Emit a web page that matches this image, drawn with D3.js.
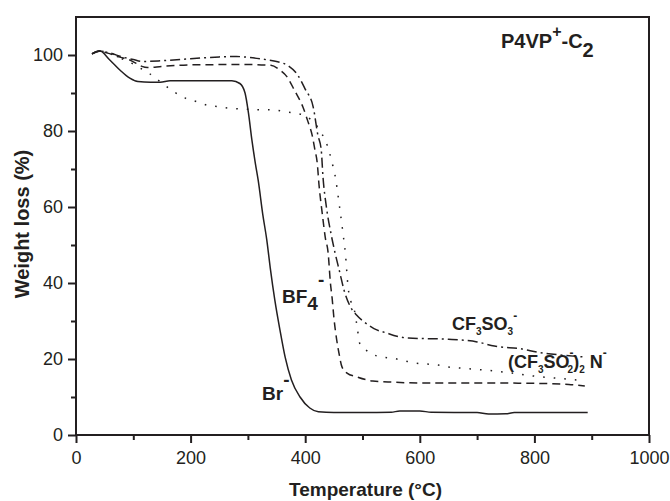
<!DOCTYPE html>
<html>
<head>
<meta charset="utf-8">
<script src="https://cdn.jsdelivr.net/npm/d3@7"></script>
<style>
  html, body { margin: 0; padding: 0; background: #fff; }
  svg text { font-family: "Liberation Sans", Arial, sans-serif; fill: #231f20; }
</style>
</head>
<body>
<svg id="chart" width="670" height="501"></svg>
<script>
/* TGA of P4VP+-C2 with four counter-anions: temperature (°C) vs weight (%) */
const brCurve = [[28,100.3],[41,101.1],[59,98.7],[77,96],[94,93.9],[108,93],[130,92.8],[147,92.8],[164,93.2],[204,93.2],[272,93.2],[286,92.5],[295,90],[301,84.7],[307,77.6],[313,71.5],[318,67],[326,58],[333,51.3],[339,44],[347,35.5],[356,27.6],[365,20.5],[376,14.5],[391,10],[408,7.1],[423,6.1],[450,5.9],[500,5.9],[550,6],[565,6.3],[600,6.3],[620,6],[700,5.9],[720,5.5],[750,5.6],[765,5.9],[893,5.9]];
const bf4Curve = [[28,100.3],[40,101],[55,100.5],[75,99.5],[95,98.6],[105,97.8],[115,97],[125,96.7],[150,97],[200,97.4],[300,97.5],[340,97.3],[356,96],[368,94.3],[382,90.5],[396,86.3],[405,82.4],[412,79],[417,75],[421,71.6],[424,66],[430,58],[435,52],[440,48],[444,40],[447,36],[450,31],[455,25],[459,21.5],[464,18],[473,16.3],[490,15.3],[518,14.2],[553,13.9],[600,13.7],[700,13.7],[800,13.6],[860,13.3],[888,12.9]];
const otfCurve = [[28,100.3],[40,101],[60,100.5],[80,99.5],[100,98.8],[115,98.3],[150,98.5],[200,99],[250,99.5],[280,99.6],[300,99.4],[326,98.9],[352,98.2],[370,97.2],[387,94.7],[400,91],[414,86.3],[422,79],[428,75],[431,68],[437,60],[445,53],[452,48],[460,43],[468,38],[478,34],[490,31.5],[505,29.5],[520,28],[543,26.8],[560,26],[580,25.5],[650,25.2],[700,24.5],[730,23.4],[780,22.6],[805,21.8],[850,21],[890,20.5]];
const tfsiCurve = [[28,100.3],[40,101],[60,100.5],[80,99],[100,97.6],[115,96.3],[129,95],[150,92.6],[170,90.4],[190,88.7],[211,87.7],[229,86.8],[248,86.4],[269,86],[300,85.7],[347,85.5],[368,85],[387,84.6],[400,84],[410,83],[417,82],[428,79.5],[435,77.6],[442,74.5],[447,71.6],[452,68.4],[460,60],[466,53],[470,48],[475,38.7],[480,35],[487,32],[491,28],[496,23.7],[505,22.5],[513,21.6],[534,20.5],[553,20.2],[574,19.5],[590,19],[632,18.4],[650,17.9],[680,17.5],[720,17],[761,16.3],[800,15.5],[850,14.8],[888,14.3]];

const xTicks = [0, 200, 400, 600, 800, 1000];
const xMinor = [100, 300, 500, 700, 900];
const yTicks = [0, 20, 40, 60, 80, 100];
const yMinor = [10, 30, 50, 70, 90];

const INK = "#231f20";
const svg = d3.select("#chart");
const x = d3.scaleLinear().domain([0, 1000]).range([76, 649]);
const y = d3.scaleLinear().domain([0, 110]).range([435, 17]);

// frame
svg.append("rect").attr("x", x(0)).attr("y", y(110)).attr("width", x(1000) - x(0)).attr("height", y(0) - y(110))
  .attr("fill", "none").attr("stroke", INK).attr("stroke-width", 2);

// axes
const gx = svg.append("g").attr("transform", `translate(0,${y(0)})`);
gx.call(d3.axisBottom(x).tickValues(xTicks).tickSize(8).tickPadding(8).tickFormat(d3.format("d")));
gx.append("g").call(d3.axisBottom(x).tickValues(xMinor).tickSize(5).tickFormat(""));
const gy = svg.append("g").attr("transform", `translate(${x(0)},0)`);
gy.call(d3.axisLeft(y).tickValues(yTicks).tickSize(8).tickPadding(5).tickFormat(d3.format("d")));
gy.append("g").call(d3.axisLeft(y).tickValues(yMinor).tickSize(5).tickFormat(""));
svg.selectAll(".domain").remove();
svg.selectAll(".tick line").attr("stroke", INK).attr("stroke-width", 2);
svg.selectAll(".tick text").style("font-size", "18px").attr("fill", INK);

// axis titles
svg.append("text").attr("x", (x(0) + x(1000)) / 2 + 3).attr("y", 496).attr("text-anchor", "middle")
  .style("font-size", "19px").style("font-weight", "bold").text("Temperature (°C)");
svg.append("text").attr("transform", `translate(29,${(y(0) + y(110)) / 2 - 2}) rotate(-90)`).attr("text-anchor", "middle")
  .style("font-size", "20px").style("font-weight", "bold").text("Weight loss (%)");

// curves
const line = d3.line().x(d => x(d[0])).y(d => y(d[1])).curve(d3.curveMonotoneX);
const series = [
  { data: brCurve, dash: null },
  { data: bf4Curve, dash: "8,5" },
  { data: otfCurve, dash: "10,4,2,4" },
  { data: tfsiCurve, dash: "1.6,9" },
];
svg.append("g").selectAll("path").data(series).join("path")
  .attr("d", d => line(d.data)).attr("fill", "none").attr("stroke", INK)
  .attr("stroke-width", 1.5).attr("stroke-dasharray", d => d.dash);

// labels with sub/superscripts
function label(px, py, size, parts) {
  const t = svg.append("text").attr("x", px).attr("y", py).style("font-weight", "bold").style("font-size", size + "px");
  parts.forEach(p => t.append("tspan").attr("dy", p[1] || 0).attr("dx", p[3] || 0)
    .style("font-size", (p[2] || size) + "px").text(p[0]));
}
label(501, 48, 20, [["P4VP"], ["+", -11, 16], ["-C", 11], ["2", 9]]);
label(282, 303, 19, [["BF"], ["4", 7], ["-", -24]]);
label(262, 400, 19, [["Br"], ["-", -14]]);
label(452, 330, 18, [["CF"], ["3", 5, 10], ["SO", -5], ["3", 5, 10], ["-", -15, 12]]);
label(508, 368, 18, [["(CF"], ["3", 5, 10], ["SO", -5], ["-", -11, 12], ["2", 16, 10, -6], [")", -5], ["2", 5, 10], [" N", -5], ["-", -11, 12]]);
</script>
</body>
</html>
